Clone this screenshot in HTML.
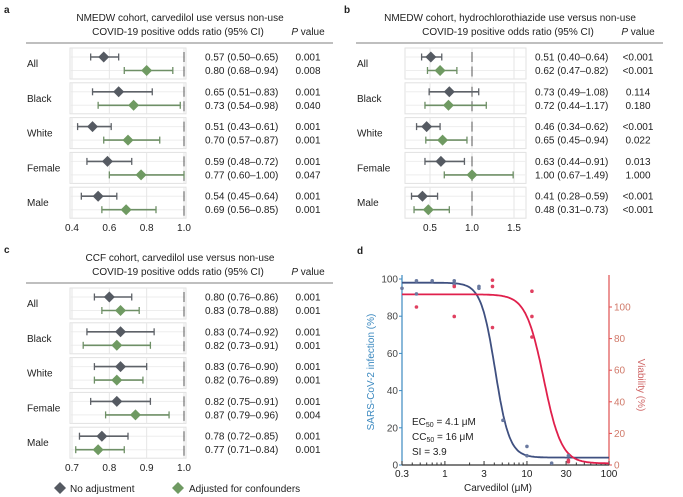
<!DOCTYPE html>
<html><head><meta charset="utf-8"><style>
body{margin:0;background:#fff;}
svg{display:block;font-family:"Liberation Sans",sans-serif;}
</style></head><body>
<svg id="s" width="683" height="497" viewBox="0 0 683 497"></svg>
<script>
const groups=["All","Black","White","Female","Male"];
// panel a
const aEst=[0.57,0.80,0.65,0.73,0.51,0.70,0.59,0.77,0.54,0.69];
const aLo=[0.50,0.68,0.51,0.54,0.43,0.57,0.48,0.60,0.45,0.56];
const aHi=[0.65,0.94,0.83,0.98,0.61,0.87,0.72,1.00,0.64,0.85];
const aP=["0.001","0.008","0.001","0.040","0.001","0.001","0.001","0.047","0.001","0.001"];
const aTicks=[0.4,0.6,0.8,1.0];
// panel b
const bEst=[0.51,0.62,0.73,0.72,0.46,0.65,0.63,1.00,0.41,0.48];
const bLo=[0.40,0.47,0.49,0.44,0.34,0.45,0.44,0.67,0.28,0.31];
const bHi=[0.64,0.82,1.08,1.17,0.62,0.94,0.91,1.49,0.59,0.73];
const bP=["<0.001","<0.001","0.114","0.180","<0.001","0.022","0.013","1.000","<0.001","<0.001"];
const bTicks=[0.5,1.0,1.5];
// panel c
const cEst=[0.80,0.83,0.83,0.82,0.83,0.82,0.82,0.87,0.78,0.77];
const cLo=[0.76,0.78,0.74,0.73,0.76,0.76,0.75,0.79,0.72,0.71];
const cHi=[0.86,0.88,0.92,0.91,0.90,0.89,0.91,0.96,0.85,0.84];
const cP=["0.001","0.001","0.001","0.001","0.001","0.001","0.001","0.004","0.001","0.001"];
const cTicks=[0.7,0.8,0.9,1.0];
// panel d
const dXTicks=[0.3,1,3,10,30,100];
const dYTicks=[0,20,40,60,80,100];
const dY2Ticks=[0,20,40,60,80,100];
const blueX=[0.3,0.45,0.45,0.7,1.3,1.3,2.6,2.6,5.1,10,10,20,32];
const blueY=[95,99,92,99,99,97,95,96,24,10,5,1,5];
const redX=[0.45,1.3,1.3,3.8,3.8,3.8,11.5,11.5,11.5,32,32];
const redY=[100,94,113,117,113,87,110,81,94,3,2];
const blueFit=[98,4,4.1,5];
const redFit=[108,1,16,4];

const S=document.getElementById('s');
const NS="http://www.w3.org/2000/svg";
function mk(t,a,p){const e=document.createElementNS(NS,t);for(const k in a)e.setAttribute(k,a[k]);(p||S).appendChild(e);return e;}
function tx(x,y,s,a,p){const e=mk('text',Object.assign({x:x,y:y,'font-size':10,fill:'#222'},a||{}),p);e.textContent=s;return e;}
function fmt(v){return v.toFixed(2);}

function forest(name,ox,oy,title,est,lo,hi,pv,ticks,x0,v0,x1,v1,sh,boxL){
  const g=mk('g',{},S);
  
  
  const X=v=>x0+(v-v0)*(x1-x0)/(v1-v0);
  const t=tx(ox+180+sh,oy+21,title,{'text-anchor':'middle'},g);
  
  
  const h=tx(ox+178+sh,oy+35,'COVID-19 positive odds ratio (95% CI)',{'text-anchor':'middle'},g);
  
  
  const pp=tx(ox+308+sh,oy+35,'',{'text-anchor':'middle'},g);
  pp.innerHTML='<tspan font-style="italic">P</tspan> value';
  
  
  const r=mk('line',{x1:ox+26+sh,x2:ox+333+sh,y1:oy+43,y2:oy+43,stroke:'#999','stroke-width':1.3},g);
  
  
  const L=ox+boxL,R=ox+186;
  for(let gi=0;gi<5;gi++){
    const y1=oy+57+gi*34.8,y2=y1+13.5;
    const b=mk('rect',{x:L,y:y1-9,width:R-L,height:31,fill:'none',stroke:'#e2e2e2'},g);
    
    
    mk('line',{x1:L,x2:R,y1:y1,y2:y1,stroke:'#eee'},g);
    mk('line',{x1:L,x2:R,y1:y2,y2:y2,stroke:'#eee'},g);
    ticks.forEach(tv=>mk('line',{x1:ox+X(tv),x2:ox+X(tv),y1:y1-9,y2:y1+22,stroke:'#e6e6e6'},g));
    const gl=tx(ox+27+sh,y1+10,groups[gi],{},g);
    
    
    mk('line',{x1:ox+X(1),x2:ox+X(1),y1:y1-5,y2:y1+5,stroke:'#555'},g);
    mk('line',{x1:ox+X(1),x2:ox+X(1),y1:y2-4,y2:y2+6,stroke:'#555'},g);
  }
  for(let i=0;i<est.length;i++){
    const gi=Math.floor(i/2),y=oy+57+gi*34.8+(i%2)*13.5;
    const col=i%2?'#6f9a62':'#555a62',ecol=i%2?'#6e8f66':'#5e6268';
    const e=mk('g',{},g);
    
    
    const a=ox+X(lo[i]),b=ox+X(hi[i]),c=ox+X(est[i]);
    mk('line',{x1:a,x2:b,y1:y,y2:y,stroke:ecol,'stroke-width':1.6},e);
    mk('line',{x1:a,x2:a,y1:y-3.5,y2:y+3.5,stroke:ecol,'stroke-width':1.3},e);
    mk('line',{x1:b,x2:b,y1:y-3.5,y2:y+3.5,stroke:ecol,'stroke-width':1.3},e);
    mk('polygon',{points:`${c},${y-5.5} ${c+5.5},${y} ${c},${y+5.5} ${c-5.5},${y}`,fill:col},e);
    const vt=tx(ox+205+sh,y+3.5,`${fmt(est[i])} (${fmt(lo[i])}\u2013${fmt(hi[i])})`,{},g);
    
    
    const pt=tx(ox+308+sh,y+3.5,pv[i],{'text-anchor':'middle'},g);
    
    
  }
  ticks.forEach(tv=>{
    const k=tx(ox+X(tv),oy+231,tv.toFixed(1),{'text-anchor':'middle'},g);
    
    
  });
}
function letter(s,x,y){const e=tx(x,y,s,{'font-weight':'bold','font-size':10});
  
  }
letter('a',4,13);letter('b',344,13);letter('c',4,253);letter('d',357,254);
forest('forest-a',0,0,'NMEDW cohort, carvedilol use versus non-use',aEst,aLo,aHi,aP,aTicks,72,0.4,184,1.0,0,70);
forest('forest-b',340,0,'NMEDW cohort, hydrochlorothiazide use versus non-use',bEst,bLo,bHi,bP,bTicks,90,0.5,174,1.5,-10,65);
forest('forest-c',0,240,'CCF cohort, carvedilol use versus non-use',cEst,cLo,cHi,cP,cTicks,72,0.7,184,1.0,0,70);

const lg=mk('g',{});


mk('polygon',{points:'60,482 66,488 60,494 54,488',fill:'#555a62'},lg);
tx(70,492,'No adjustment',{},lg);
mk('polygon',{points:'178,482 184,488 178,494 172,488',fill:'#6f9a62'},lg);
tx(189,492,'Adjusted for confounders',{},lg);

const PX0=402,PX1=609,PY0=465,PY100=279,PY2_100=307;
const DX=v=>PX0+(Math.log10(v)-Math.log10(0.3))/(Math.log10(100)-Math.log10(0.3))*(PX1-PX0);
const DY=v=>PY0-v*(PY0-PY100)/100;
const DY2=v=>PY0-v*(PY0-PY2_100)/100;
const dg=mk('g',{});


mk('line',{x1:PX0,x2:PX0,y1:275,y2:PY0,stroke:'#3d8ac0','stroke-width':1.2},dg);
mk('line',{x1:PX1,x2:PX1,y1:275,y2:PY0,stroke:'#e05050','stroke-width':1.2},dg);
mk('line',{x1:PX0,x2:PX1,y1:PY0,y2:PY0,stroke:'#333','stroke-width':1.2},dg);
dYTicks.forEach(v=>{mk('line',{x1:PX0-3,x2:PX0,y1:DY(v),y2:DY(v),stroke:'#3d8ac0'},dg);
  const k=tx(PX0-4,DY(v)+3.5,String(v),{'text-anchor':'end',fill:'#444'},dg);
  
  });
dY2Ticks.forEach(v=>{mk('line',{x1:PX1,x2:PX1+3,y1:DY2(v),y2:DY2(v),stroke:'#e05050'},dg);
  const k=tx(PX1+5,DY2(v)+3.5,String(v),{fill:'#d07a6a'},dg);
  
  });
[0.3,0.4,0.5,0.6,0.7,0.8,0.9,1,2,3,4,5,6,7,8,9,10,20,30,40,50,60,70,80,90,100].forEach(v=>{
  const big=dXTicks.includes(v);mk('line',{x1:DX(v),x2:DX(v),y1:PY0,y2:PY0-(big?4:2.5),stroke:'#333'},dg);});
dXTicks.forEach(v=>{const k=tx(DX(v),PY0+12,String(v),{'text-anchor':'middle'},dg);
  
  });
const xl=tx(498,491,'Carvedilol (\u03bcM)',{'text-anchor':'middle'},dg);


const yl=tx(0,0,'SARS-CoV-2 infection (%)',{'text-anchor':'middle',fill:'#3d8ac0',transform:'translate(374,372) rotate(-90)'},dg);


const y2=tx(0,0,'Viability (%)',{'text-anchor':'middle',fill:'#d06868',transform:'translate(638,385) rotate(90)'},dg);


function curve(f,Y,col,name){let d='';for(let i=0;i<=200;i++){const lv=Math.log10(0.3)+i/200*(Math.log10(100)-Math.log10(0.3));const v=Math.pow(10,lv);
  const y=f[1]+(f[0]-f[1])/(1+Math.pow(v/f[2],f[3]));d+=(i?'L':'M')+DX(v).toFixed(1)+','+Y(y).toFixed(1);}
  const p=mk('path',{d:d,fill:'none',stroke:col,'stroke-width':1.8},dg);
  
  }
curve(blueFit,DY,'#3f5080','infection-curve');
curve(redFit,DY2,'#e0204c','viability-curve');
blueX.forEach((x,i)=>{const c=mk('circle',{cx:DX(x),cy:DY(blueY[i]),r:1.8,fill:'#6a7aa0'},dg);
  
  });
redX.forEach((x,i)=>{const c=mk('circle',{cx:DX(x),cy:DY2(redY[i]),r:1.8,fill:'#e04060'},dg);
  
  });
const an=mk('g',{},dg);


tx(412,425,'',{},an).innerHTML='EC<tspan font-size="7" dy="2">50</tspan><tspan dy="-2"> = 4.1 \u03bcM</tspan>';
tx(412,440,'',{},an).innerHTML='CC<tspan font-size="7" dy="2">50</tspan><tspan dy="-2"> = 16 \u03bcM</tspan>';
tx(412,455,'SI = 3.9',{},an);
</script>
</body></html>
